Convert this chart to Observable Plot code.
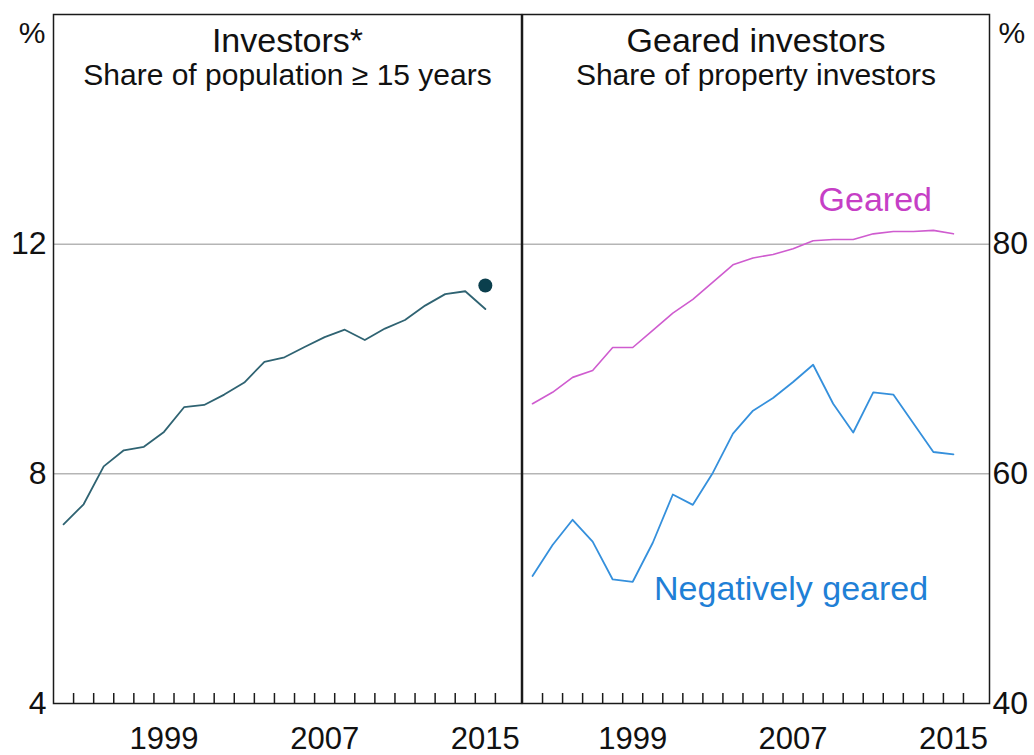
<!DOCTYPE html>
<html>
<head>
<meta charset="utf-8">
<script src="https://cdn.jsdelivr.net/npm/d3@7"></script>
<script src="https://cdn.jsdelivr.net/npm/@observablehq/plot@0.6"></script>
<style>
  html, body { margin: 0; padding: 0; background: #fff; }
  #chart { position: relative; width: 1034px; height: 755px; overflow: hidden; background: #fff; }
  #chart svg { position: absolute; top: 0; overflow: visible; background: transparent; }
</style>
</head>
<body>
<div id="chart"></div>
<script>
// ---- data ----
const years = [1994, 1995, 1996, 1997, 1998, 1999, 2000, 2001, 2002, 2003, 2004,
               2005, 2006, 2007, 2008, 2009, 2010, 2011, 2012, 2013, 2014, 2015];
const investorsShare = [7.12, 7.47, 8.13, 8.41, 8.47, 8.73, 9.16, 9.20, 9.38, 9.59, 9.95,
                        10.03, 10.21, 10.38, 10.51, 10.33, 10.53, 10.68, 10.93, 11.13, 11.18, 10.87];
const dotYears = [2015];
const dotValues = [11.28];
const gearedShare = [66.1, 67.1, 68.4, 69.0, 71.0, 71.0, 72.5, 74.0, 75.2, 76.7, 78.2,
                     78.8, 79.1, 79.6, 80.3, 80.4, 80.4, 80.9, 81.1, 81.1, 81.2, 80.9];
const negGearedShare = [51.1, 53.8, 56.0, 54.1, 50.8, 50.6, 54.0, 58.2, 57.3, 60.1, 63.5,
                        65.5, 66.6, 68.0, 69.5, 66.1, 63.6, 67.1, 66.9, 64.4, 61.9, 61.7];
const xLabelYears = [1999, 2007, 2015];
const leftTicks = [4, 8, 12];
const leftGrid = [8, 12];
const rightTicks = [40, 60, 80];
const rightGrid = [60, 80];
const panelTitles = ["Investors*", "Geared investors"];
const panelSubtitles = ["Share of population \u2265 15 years", "Share of property investors"];
const seriesLabels = ["Geared", "Negatively geared"];
const seriesLabelYears = [2011.1, 2006.9];
const seriesLabelValues = [82.9, 49.0];

// ---- tables built from the arrays ----
const invData = years.map((y, i) => ({year: y, value: investorsShare[i]}));
const dotData = dotYears.map((y, i) => ({year: y, value: dotValues[i]}));
const gearData = years.map((y, i) => ({year: y, value: gearedShare[i]}));
const negData = years.map((y, i) => ({year: y, value: negGearedShare[i]}));
const labelData = seriesLabels.map((t, i) => ({text: t, year: seriesLabelYears[i], value: seriesLabelValues[i]}));
const yearBoundaries = d3.range(years[0] + 0.5, years[years.length - 1] + 1, 1);

const FONT = "Liberation Sans, Arial, Helvetica, sans-serif";
const xDomain = [1993.5, 2016.8];
const frameColor = "#1a1a1a";
const gridColor = "#b5b5b5";
const teal = "#2f6372";
const pink = "#cf5ccf";
const pinkText = "#c63fc6";
const blue = "#3590dc";
const blueText = "#1f80d6";

const common = {
  height: 755,
  marginTop: 14,
  marginBottom: 52,
  style: {fontFamily: FONT, color: "#111", background: "transparent", overflow: "visible"},
  x: {domain: xDomain, label: null}
};

const left = Plot.plot({
  ...common,
  width: 522,
  marginLeft: 53,
  marginRight: 1,
  y: {domain: [4, 16], label: null},
  marks: [
    Plot.ruleY(leftGrid, {stroke: gridColor, strokeWidth: 1.5}),
    Plot.axisX({ticks: yearBoundaries, tickSize: -10, fill: "none", stroke: frameColor, strokeWidth: 1.5, label: null}),
    Plot.axisX({ticks: xLabelYears, tickSize: 0, tickPadding: 23, fontSize: 31, fontFamily: FONT, fill: "#111", label: null, tickFormat: d => String(d)}),
    Plot.axisY({ticks: leftTicks, tickSize: 0, tickPadding: 7, fontSize: 32, fontFamily: FONT, fill: "#111", label: null}),
    Plot.line(invData, {x: "year", y: "value", stroke: teal, strokeWidth: 1.8}),
    Plot.dot(dotData, {x: "year", y: "value", r: 7, fill: "#0b3f4d", stroke: "none"}),
    Plot.text(["%"], {frameAnchor: "top-left", dx: -8, dy: 19, textAnchor: "end", lineAnchor: "middle", fontSize: 30, fontFamily: FONT, fill: "#111"}),
    Plot.text([panelTitles[0]], {frameAnchor: "top", dy: 37, lineAnchor: "bottom", fontSize: 34, fontFamily: FONT, fill: "#111"}),
    Plot.text([panelSubtitles[0]], {frameAnchor: "top", dy: 70, lineAnchor: "bottom", fontSize: 30, fontFamily: FONT, fill: "#111"}),
    Plot.frame({stroke: frameColor, strokeWidth: 1.5})
  ]
});
left.style.left = "0px";

const right = Plot.plot({
  ...common,
  width: 513,
  marginLeft: 1,
  marginRight: 45,
  y: {domain: [40, 100], label: null},
  marks: [
    Plot.ruleY(rightGrid, {stroke: gridColor, strokeWidth: 1.5}),
    Plot.axisX({ticks: yearBoundaries, tickSize: -10, fill: "none", stroke: frameColor, strokeWidth: 1.5, label: null}),
    Plot.axisX({ticks: xLabelYears, tickSize: 0, tickPadding: 23, fontSize: 31, fontFamily: FONT, fill: "#111", label: null, tickFormat: d => String(d)}),
    Plot.axisY({anchor: "right", ticks: rightTicks, tickSize: 0, tickPadding: 3, fontSize: 32, fontFamily: FONT, fill: "#111", label: null}),
    Plot.line(gearData, {x: "year", y: "value", stroke: pink, strokeWidth: 1.6}),
    Plot.line(negData, {x: "year", y: "value", stroke: blue, strokeWidth: 1.8}),
    Plot.text(labelData, {x: "year", y: "value", text: "text", lineAnchor: "bottom", textAnchor: "middle", fontSize: 34, fontFamily: FONT,
      fill: d => d.text === "Geared" ? pinkText : blueText}),
    Plot.text(["%"], {frameAnchor: "top-right", dx: 9, dy: 19, textAnchor: "start", lineAnchor: "middle", fontSize: 30, fontFamily: FONT, fill: "#111"}),
    Plot.text([panelTitles[1]], {frameAnchor: "top", dy: 37, lineAnchor: "bottom", fontSize: 34, fontFamily: FONT, fill: "#111"}),
    Plot.text([panelSubtitles[1]], {frameAnchor: "top", dy: 70, lineAnchor: "bottom", fontSize: 30, fontFamily: FONT, fill: "#111"}),
    Plot.frame({stroke: frameColor, strokeWidth: 1.5})
  ]
});
right.style.left = "521px";

const chart = document.getElementById("chart");
chart.appendChild(left);
chart.appendChild(right);
</script>
</body>
</html>
